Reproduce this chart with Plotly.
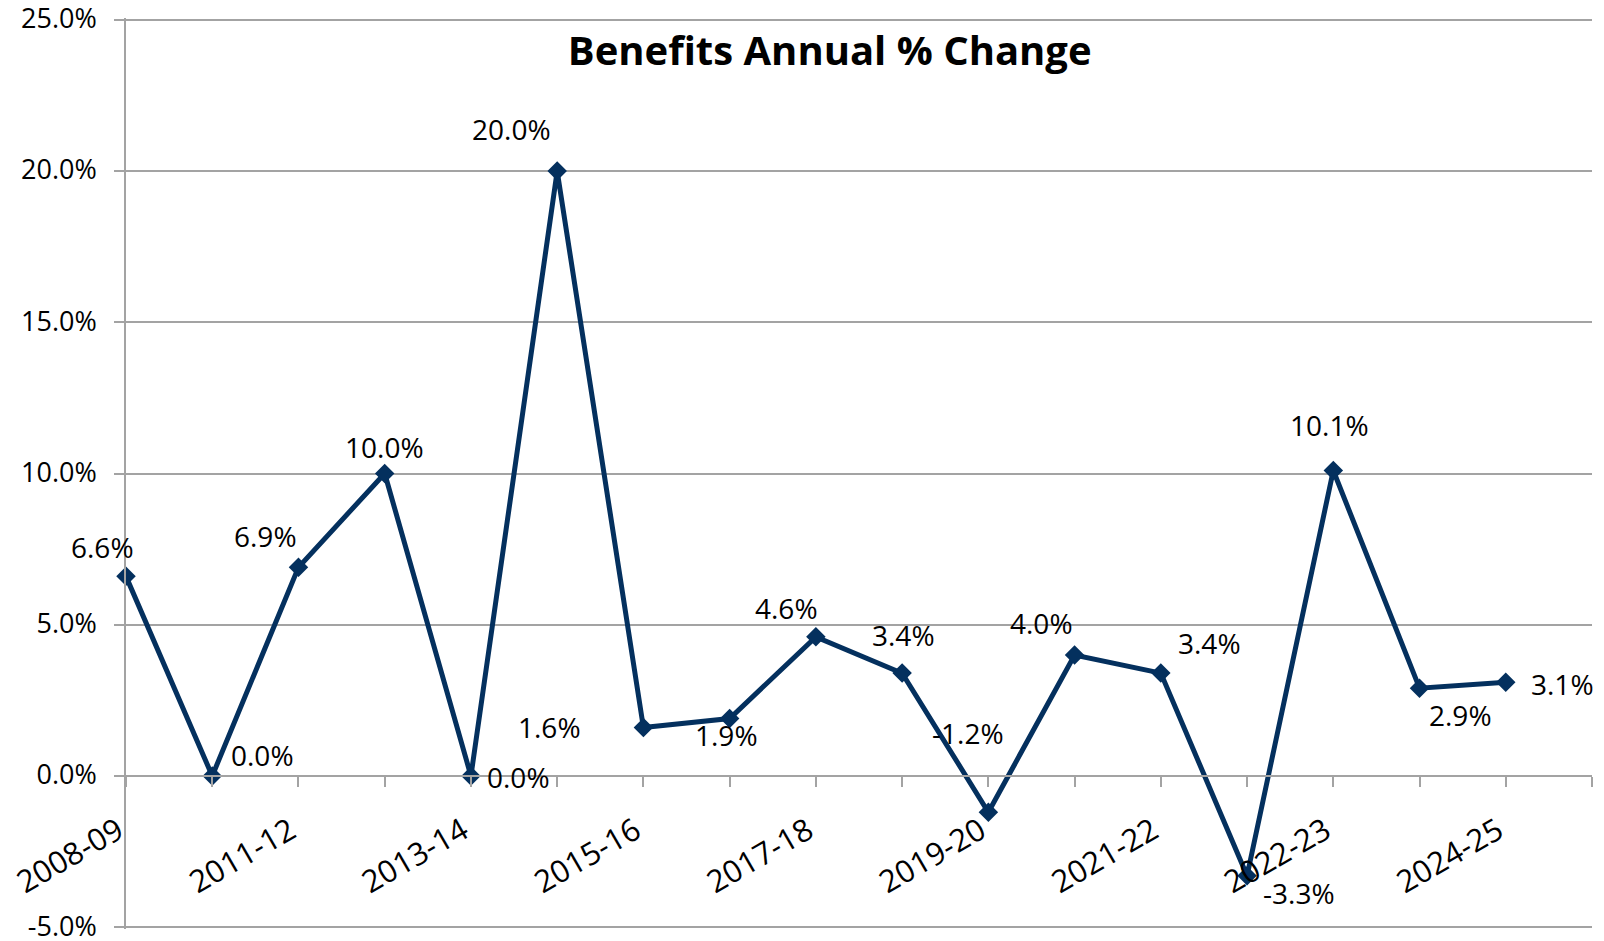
import plotly.graph_objects as go

# Data
period_labels = ["2008-09", "2011-12", "2013-14", "2015-16", "2017-18",
                 "2019-20", "2021-22", "2022-23", "2024-25"]
pct_change = [6.6, 0.0, 6.9, 10.0, 0.0, 20.0, 1.6, 1.9, 4.6, 3.4,
              -1.2, 4.0, 3.4, -3.3, 10.1, 2.9, 3.1]
y_ticks = [-5, 0, 5, 10, 15, 20, 25]

# Label offsets (px) for data labels: style only
label_dx = [-24, 50, -33, 0, 48, -46, -94, -3, -29, 1, -20, -33, 49, 52, -4, 41, 57]
label_dy = [29, 21, 31, 27, -1, 42, 1, -17, 29, 38, 79, 32, 30, -17, 45, -27, -2]

x_idx = list(range(len(pct_change)))
FONT = "Open Sans"
NAVY = "#04305e"
GRID = "#a3a3a3"
FS = 28

# small padding so the end gridlines (-5% and 25%) are drawn
PAD = 0.06
y_lo, y_hi = y_ticks[0] - PAD, y_ticks[-1] + PAD

fig = go.Figure()
fig.add_trace(go.Scatter(
    x=x_idx, y=pct_change, mode="lines+markers",
    line=dict(color=NAVY, width=5),
    marker=dict(symbol="diamond", size=15, color=NAVY),
    cliponaxis=False, showlegend=False, hoverinfo="skip",
))

for xi, v, dx, dy in zip(x_idx, pct_change, label_dx, label_dy):
    fig.add_annotation(x=xi, y=v, text=f"{v:.1f}%", showarrow=False,
                       xshift=dx, yshift=dy, xanchor="center", yanchor="middle",
                       font=dict(family=FONT, size=FS, color="black"))

W, H = 1604, 941
fig.update_layout(
    width=W, height=H,
    margin=dict(l=126, r=12, t=18, b=12),
    paper_bgcolor="white", plot_bgcolor="white",
    title=dict(text="<b>Benefits Annual % Change</b>", xref="paper", x=0.48,
               yref="container", y=1 - 51 / H, xanchor="center", yanchor="middle",
               font=dict(family=FONT, size=40, color="black")),
    xaxis=dict(
        range=[0, 17], anchor="free", position=(0 - y_lo) / (y_hi - y_lo),
        tickvals=x_idx[::2], ticktext=period_labels,
        ticks="outside", ticklen=10, tickwidth=1.5, tickcolor=GRID,
        minor=dict(dtick=1, tick0=0, ticks="outside", ticklen=10, tickwidth=1.5, tickcolor=GRID),
        tickangle=-30, ticklabelstandoff=14, ticklabelshift=-8, ticklabeloverflow="allow",
        showline=True, linecolor=GRID, linewidth=1.5,
        showgrid=False, zeroline=False, automargin=False,
        tickfont=dict(family=FONT, size=31, color="black"),
    ),
    yaxis=dict(
        range=[y_lo, y_hi], tickvals=y_ticks, ticktext=[f"{t:.1f}%" for t in y_ticks],
        ticks="outside", ticklen=10, tickwidth=1.5, tickcolor=GRID,
        showline=True, linecolor=GRID, linewidth=1.5,
        showgrid=True, gridcolor=GRID, gridwidth=1.5, zeroline=False,
        automargin=False, ticklabelstandoff=12, ticklabelshift=-1, ticklabeloverflow="allow",
        tickfont=dict(family=FONT, size=27, color="black"),
    ),
)

fig.write_html("out.html", config={"displayModeBar": False},
               post_script="document.body.style.margin='0';document.body.style.overflow='hidden';")
